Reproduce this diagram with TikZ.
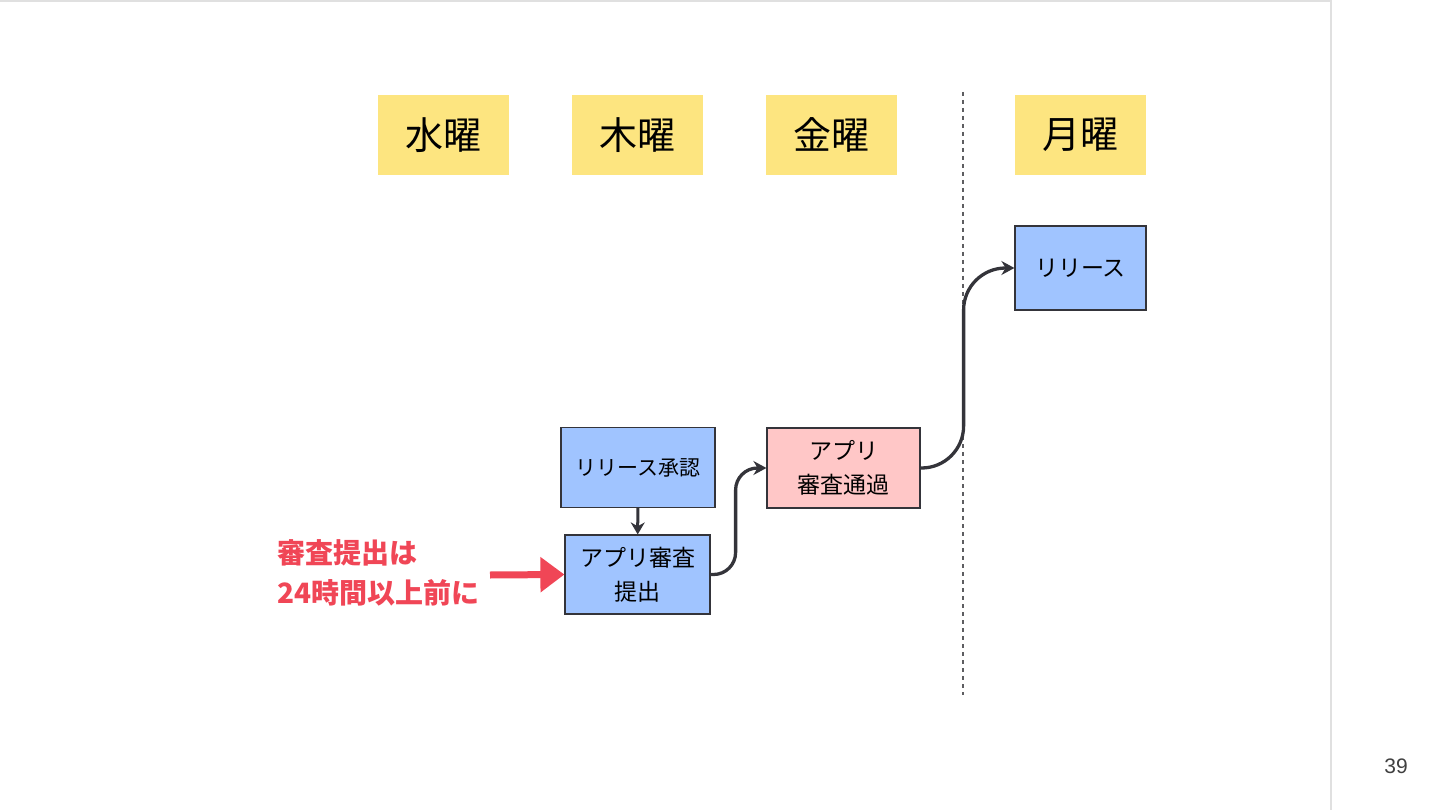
\documentclass[tikz,border=0pt]{standalone}
\usepackage{fontspec}
\usepackage{xcolor}
\usepackage{tikz}
\usetikzlibrary{positioning}
\usetikzlibrary{arrows.meta}
\newfontfamily\jpfont{Noto Sans CJK JP}
\newfontfamily\numfont{Liberation Sans}
\definecolor{dayyellow}{RGB}{253,229,128}
\definecolor{taskblue}{RGB}{160,196,255}
\definecolor{taskpink}{RGB}{255,199,199}
\definecolor{notered}{RGB}{240,70,86}
\definecolor{edgegray}{RGB}{52,52,58}
\tikzset{
    day/.style={fill=dayyellow,minimum width=131pt,minimum height=80pt,
        font=\jpfont\fontsize{38}{42}\selectfont},
    task/.style={draw=edgegray,line width=1.2pt,fill=taskblue,align=center,
        minimum width=#1,minimum height=80pt,inner sep=0pt,
        font=\jpfont\fontsize{23}{34}\selectfont},
    task/.default={145pt},
    flow/.style={draw=edgegray,line width=3.3pt,
        -{Stealth[length=13pt,width=14pt]}},
}
\begin{document}
\begin{tikzpicture}[x=1pt,y=-1pt]
    \useasboundingbox (0,0) rectangle (1440,810);
    % page frame
    \draw[black!12,line width=1.5pt] (0,1) -- (1331,1) -- (1331,810);
    \node[font=\numfont\fontsize{21}{24}\selectfont,text=black!75] (page) at (1396,766) {39};
    % days
    \node[day] (wed) at (443.5,135) {水曜};
    \node[day] (thu) at (637.5,135) {木曜};
    \node[day] (fri) at (831.5,135) {金曜};
    \node[day] (mon) at (1080.5,135) {月曜};
    \draw[edgegray!80,line width=1.3pt,dash pattern=on 4pt off 4pt] (963,92) -- (963,695);
    % tasks
    \node[task=154pt,font=\jpfont\fontsize{21}{30}\selectfont] (approve) at (638,467.5) {リリース承認};
    \node[task,minimum height=79pt] (submit) at (637.5,574.5) {アプリ審査\\提出};
    \node[task=153pt,fill=taskpink] (pass) at (843.5,468) {アプリ\\審査通過};
    \node[task=131pt,minimum height=84pt] (release) at (1080.5,268) {リリース};
    \draw[edgegray,line width=3pt,-{Stealth[length=12pt,width=14pt]}] (approve) -- (submit);
    \draw[flow,rounded corners=22pt] (submit.east) -- ++(25,0) |- (pass.west);
    \draw[flow,rounded corners=42pt] (pass.east) -- ++(43,0) |- (release.west);
    % note
    \node[anchor=north west,align=left,text=notered,inner sep=0pt,
        font=\jpfont\bfseries\fontsize{28}{40}\selectfont] (note) at (277,539) {審査提出は\\24時間以上前に};
    \coordinate (notetail) at (490,575);
    \draw[notered,line width=7pt,-{Triangle[length=24pt,width=34pt]}] (notetail) -- (submit.west);
\end{tikzpicture}
\end{document}
